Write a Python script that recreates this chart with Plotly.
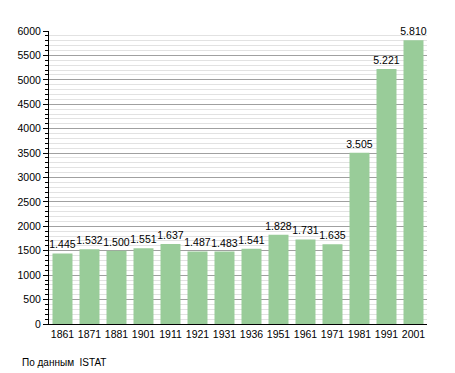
import plotly.graph_objects as go

years = ["1861", "1871", "1881", "1901", "1911", "1921", "1931", "1936", "1951", "1961", "1971", "1981", "1991", "2001"]
population = [1445, 1532, 1500, 1551, 1637, 1487, 1483, 1541, 1828, 1731, 1635, 3505, 5221, 5810]
labels = [f"{v:,}".replace(",", ".") for v in population]

fig = go.Figure()
fig.add_trace(go.Bar(
    x=years, y=population, text=labels, textposition="outside",
    textfont=dict(family="Liberation Sans, Arial", size=10.5, color="#000"),
    marker=dict(color="#99cc99", line=dict(width=0)),
    cliponaxis=False, constraintext="none",
))
fig.update_layout(
    width=455, height=373,
    margin=dict(l=49, r=28, t=31, b=49, autoexpand=False),
    paper_bgcolor="white", plot_bgcolor="white",
    bargap=0.26, showlegend=False,
    font=dict(family="Liberation Sans, Arial", size=10, color="#000"),
    xaxis=dict(type="category", showline=True, linecolor="#000", linewidth=1,
               ticks="", tickfont=dict(size=10.5), fixedrange=True, automargin=False),
    yaxis=dict(range=[0, 6000], dtick=500, showline=True, linecolor="#000", linewidth=1,
               ticks="outside", ticklen=5, tickcolor="#000", automargin=False,
               gridcolor="#a0a0a0", gridwidth=1,
               minor=dict(dtick=100, showgrid=True, gridcolor="#e2e2e2", ticks="outside",
                          ticklen=3, tickcolor="#000"),
               tickfont=dict(size=10.5), zeroline=False),
    annotations=[dict(text="По данным  ISTAT", xref="paper", yref="paper",
                      x=-0.078, y=-0.13, xanchor="left", yanchor="middle",
                      showarrow=False, font=dict(size=10, family="Liberation Sans, Arial"))],
)
fig.write_html("out.html", config={"displayModeBar": False},
               post_script="document.body.style.margin='0';document.body.style.padding='0';")
